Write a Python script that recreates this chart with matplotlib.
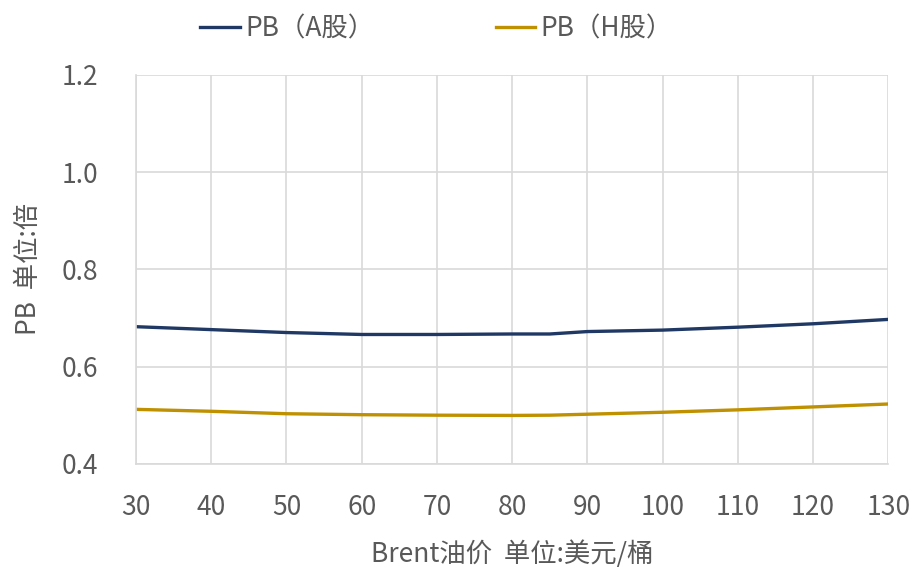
import matplotlib
matplotlib.use('agg')
import matplotlib.pyplot as plt

plt.rcParams['font.family'] = ['Noto Sans CJK SC', 'DejaVu Sans']
plt.rcParams['font.size'] = 19

oil = [30, 40, 50, 60, 70, 80, 85, 90, 100, 110, 120, 130]
pb_a = [0.682, 0.676, 0.670, 0.666, 0.666, 0.667, 0.667, 0.672, 0.675, 0.681, 0.688, 0.697]
pb_h = [0.512, 0.508, 0.503, 0.501, 0.500, 0.4995, 0.500, 0.502, 0.506, 0.511, 0.517, 0.523]

text_color = '#595959'
grid_color = '#d9d9d9'

fig = plt.figure(figsize=(9.13, 5.67), dpi=100)
ax = fig.add_axes([0.149, 0.182, 0.824, 0.686])

ax.plot(oil, pb_a, color='#1f3864', lw=2.4, label='PB（A股）')
ax.plot(oil, pb_h, color='#bf9000', lw=2.4, label='PB（H股）')

ax.set_xlim(30, 130)
ax.set_ylim(0.4, 1.2)
ax.set_xticks(range(30, 131, 10))
ax.set_yticks([0.4, 0.6, 0.8, 1.0, 1.2])
ax.set_yticklabels(['0.4', '0.6', '0.8', '1.0', '1.2'])
ax.grid(True, color=grid_color, lw=1.2)
ax.set_axisbelow(True)
for s in ['top', 'right']:
    ax.spines[s].set_visible(False)
for s in ['left', 'bottom']:
    ax.spines[s].set_color(grid_color)
    ax.spines[s].set_linewidth(1.2)
ax.tick_params(axis='x', length=0, colors=text_color, labelsize=19, pad=22)
ax.tick_params(axis='y', length=0, colors=text_color, labelsize=19, pad=27)

ax.set_xlabel('Brent油价  单位:美元/桶', color=text_color, fontsize=19, labelpad=14)
ax.set_ylabel('PB  单位:倍', color=text_color, fontsize=19, labelpad=14)

leg = fig.legend(loc='upper center', bbox_to_anchor=(0.478, 1.015), ncol=2, frameon=False,
                 handlelength=1.5, handletextpad=0.2, columnspacing=4.6, fontsize=19)
for t in leg.get_texts():
    t.set_color(text_color)

fig.savefig('out.png', dpi=100)
